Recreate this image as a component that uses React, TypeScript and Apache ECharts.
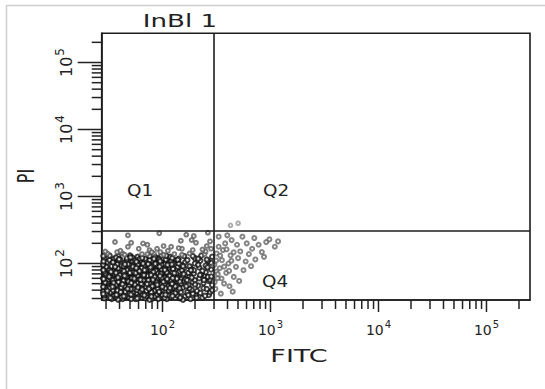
import React, { useEffect, useRef } from "react";
import * as echarts from "echarts";

// Axis definitions (log10 of intensity)
const decadeExps = [2, 3, 4, 5];
const fitcRangeLog = [1.437, 5.403];
const piRangeLog = [1.455, 5.436];
// Quadrant gate (log10 of intensity)
const gateFitcLog = 2.47;
const gatePiLog = 2.49;

// Events [log10 FITC, log10 PI]
const q3Events = [
  [1.46,1.48],[1.50,1.52],[1.53,1.47],[1.57,1.50],[1.60,1.54],[1.63,1.47],[1.66,1.51],[1.69,1.49],[1.72,1.53],[1.75,1.47],[1.78,1.50],[1.81,1.54],[1.84,1.48],[1.87,1.52],[1.90,1.47],[1.93,1.51],[1.97,1.49],[2.00,1.53],[2.04,1.47],[2.08,1.50],[2.12,1.54],[2.16,1.48],[2.21,1.51],[2.26,1.47],[2.31,1.52],[2.37,1.49],[2.43,1.53],[1.48,1.55],[1.55,1.53],[1.62,1.50],[1.71,1.47],[1.77,1.54],[1.85,1.51],[1.95,1.54],[2.02,1.49],[2.14,1.52],[2.28,1.55],[1.59,1.46],[1.88,1.46],[2.19,1.46],
  [1.45,1.58],[1.49,1.62],[1.52,1.57],[1.55,1.64],[1.58,1.60],[1.61,1.56],[1.63,1.63],[1.66,1.59],[1.68,1.65],[1.70,1.57],[1.72,1.61],[1.74,1.64],[1.76,1.56],[1.78,1.60],[1.80,1.63],[1.82,1.58],[1.84,1.62],[1.86,1.56],[1.88,1.60],[1.90,1.64],[1.92,1.58],[1.95,1.62],[1.97,1.57],[2.00,1.61],[2.03,1.65],[2.06,1.58],[2.09,1.62],[2.12,1.56],[2.15,1.60],[2.19,1.64],[2.23,1.57],[2.27,1.61],[2.32,1.59],[2.38,1.63],[2.44,1.57],[1.47,1.65],[1.57,1.55],[1.65,1.61],[1.73,1.58],[1.81,1.65],[1.89,1.57],[1.99,1.64],[2.07,1.60],[2.17,1.57],[2.35,1.56],[1.54,1.60],[1.62,1.59],[1.77,1.62],[1.93,1.60],[2.10,1.64],[2.41,1.62],[1.69,1.55],[1.85,1.59],[2.25,1.63],[2.46,1.60],
  [1.46,1.68],[1.49,1.72],[1.51,1.66],[1.54,1.70],[1.56,1.74],[1.58,1.67],[1.60,1.71],[1.62,1.75],[1.64,1.68],[1.66,1.72],[1.67,1.66],[1.69,1.70],[1.71,1.74],[1.73,1.67],[1.74,1.71],[1.76,1.69],[1.78,1.73],[1.79,1.66],[1.81,1.70],[1.83,1.74],[1.85,1.67],[1.86,1.72],[1.88,1.69],[1.90,1.75],[1.92,1.66],[1.94,1.71],[1.96,1.68],[1.98,1.73],[2.01,1.67],[2.03,1.71],[2.06,1.74],[2.08,1.68],[2.11,1.72],[2.14,1.66],[2.17,1.70],[2.20,1.74],[2.24,1.68],[2.28,1.72],[2.33,1.67],[2.38,1.71],[2.43,1.74],[2.46,1.68],[1.48,1.75],[1.53,1.67],[1.59,1.73],[1.63,1.70],[1.68,1.74],[1.72,1.69],[1.77,1.66],[1.80,1.75],[1.84,1.70],[1.87,1.66],[1.91,1.72],[1.95,1.74],[1.99,1.69],[2.05,1.66],[2.10,1.70],[2.16,1.73],[2.22,1.66],[2.30,1.75],[1.57,1.69],[1.65,1.66],[1.75,1.73],[1.82,1.68],[1.93,1.67],
  [1.45,1.78],[1.48,1.82],[1.50,1.76],[1.53,1.80],[1.55,1.84],[1.57,1.77],[1.59,1.81],[1.61,1.85],[1.63,1.78],[1.65,1.82],[1.66,1.76],[1.68,1.80],[1.70,1.84],[1.71,1.77],[1.73,1.81],[1.75,1.79],[1.76,1.83],[1.78,1.76],[1.80,1.80],[1.81,1.84],[1.83,1.77],[1.85,1.81],[1.86,1.85],[1.88,1.78],[1.90,1.82],[1.92,1.76],[1.94,1.80],[1.96,1.84],[1.98,1.77],[2.00,1.81],[2.03,1.85],[2.05,1.78],[2.08,1.82],[2.11,1.76],[2.14,1.80],[2.17,1.84],[2.21,1.77],[2.25,1.81],[2.29,1.85],[2.34,1.78],[2.39,1.82],[2.44,1.76],[1.47,1.85],[1.52,1.78],[1.58,1.83],[1.62,1.80],[1.67,1.84],[1.72,1.79],[1.77,1.82],[1.82,1.79],[1.87,1.83],[1.91,1.79],[1.95,1.77],[1.99,1.83],[2.02,1.79],[2.07,1.84],[2.13,1.78],[2.19,1.82],[2.27,1.79],[2.36,1.84],[2.42,1.80],[1.54,1.75],[1.64,1.76],[1.74,1.75],[1.84,1.75],
  [1.46,1.88],[1.49,1.92],[1.52,1.86],[1.55,1.90],[1.57,1.94],[1.60,1.87],[1.62,1.91],[1.64,1.95],[1.66,1.88],[1.68,1.92],[1.70,1.86],[1.72,1.90],[1.74,1.94],[1.76,1.87],[1.78,1.91],[1.80,1.88],[1.82,1.93],[1.84,1.86],[1.86,1.90],[1.88,1.94],[1.90,1.87],[1.92,1.91],[1.95,1.88],[1.97,1.93],[2.00,1.86],[2.03,1.90],[2.06,1.94],[2.09,1.87],[2.12,1.91],[2.16,1.88],[2.20,1.93],[2.24,1.86],[2.29,1.90],[2.34,1.94],[2.40,1.87],[2.45,1.91],[1.48,1.95],[1.54,1.87],[1.59,1.93],[1.65,1.91],[1.71,1.93],[1.75,1.89],[1.81,1.95],[1.85,1.91],[1.91,1.95],[1.94,1.89],[1.99,1.91],[2.04,1.87],[2.10,1.93],[2.18,1.90],[2.26,1.94],[2.37,1.89],[1.63,1.86],[1.73,1.87],[1.83,1.89],[1.96,1.85],[2.14,1.95],[1.51,1.90],[1.69,1.95],[1.89,1.91],
  [1.45,1.98],[1.49,2.02],[1.53,1.96],[1.56,2.00],[1.59,2.04],[1.62,1.97],[1.65,2.01],[1.67,2.05],[1.70,1.98],[1.73,2.02],[1.75,1.96],[1.78,2.00],[1.80,2.04],[1.83,1.97],[1.86,2.01],[1.88,2.05],[1.91,1.98],[1.94,2.02],[1.97,1.96],[2.00,2.00],[2.03,2.04],[2.06,1.97],[2.10,2.01],[2.13,2.05],[2.17,1.98],[2.21,2.02],[2.25,1.96],[2.30,2.00],[2.35,2.04],[2.40,1.97],[2.45,2.01],[1.51,2.05],[1.58,1.99],[1.64,1.96],[1.72,2.04],[1.77,1.98],[1.84,2.03],[1.90,1.96],[1.96,2.03],[2.02,1.99],[2.08,2.04],[2.15,2.00],[2.23,2.05],[2.33,1.98],[2.42,2.04],[1.55,2.03],[1.68,1.99],[1.82,2.00],[1.99,1.98],[2.19,1.96],
  [1.46,2.08],[1.51,2.12],[1.55,2.07],[1.59,2.11],[1.67,2.08],[1.70,2.12],[1.74,2.06],[1.77,2.10],[1.84,2.07],[1.88,2.11],[1.95,2.08],[1.99,2.12],[2.03,2.06],[2.07,2.10],[2.15,2.07],[2.20,2.11],[2.30,2.08],[2.36,2.12],[2.41,2.06],[2.46,2.10],[1.57,2.09],[1.72,2.09],[1.79,2.07],[1.93,2.10],[2.09,2.08],[2.28,2.11],[1.61,2.06],[1.97,2.06],[2.33,2.07],
];

// Extra events in the dense core of the lower-left quadrant
const q3CoreEvents = [
  [1.512,1.634],[1.547,1.712],[1.583,1.598],[1.604,1.826],[1.638,1.743],[1.655,1.577],[1.671,1.902],[1.693,1.668],[1.716,1.781],[1.734,1.623],[1.752,1.857],[1.768,1.704],[1.791,1.585],[1.807,1.931],[1.823,1.749],[1.846,1.646],[1.862,1.818],[1.879,1.702],[1.897,1.571],[1.915,1.873],[1.938,1.739],[1.956,1.622],[1.973,1.954],[1.994,1.784],[2.017,1.683],[2.038,1.867],[2.055,1.597],[2.079,1.742],[2.097,1.918],[2.118,1.661],
  [1.523,1.877],[1.561,1.952],[1.592,1.723],[1.617,1.641],[1.643,1.889],[1.662,1.807],[1.684,1.732],[1.707,1.618],[1.726,1.953],[1.744,1.684],[1.763,1.604],[1.786,1.887],[1.803,1.697],[1.828,1.826],[1.851,1.593],[1.869,1.752],[1.888,1.944],[1.906,1.661],[1.927,1.802],[1.947,1.713],[1.968,1.579],[1.986,1.846],[2.008,1.728],[2.027,1.631],[2.047,1.979],[2.066,1.814],[2.088,1.696],[2.109,1.856],[2.132,1.774],[2.158,1.629],
  [1.468,1.716],[1.489,1.593],[1.506,1.804],[1.537,1.653],[1.569,1.861],[1.588,1.792],[1.612,1.572],[1.629,1.689],[1.648,1.817],[1.677,1.623],[1.698,1.861],[1.711,1.711],[1.739,1.776],[1.757,1.932],[1.773,1.641],[1.796,1.758],[1.812,1.613],[1.834,1.902],[1.857,1.694],[1.874,1.624],[1.893,1.829],[1.911,1.757],[1.933,1.996],[1.952,1.683],[1.977,1.812],[1.998,1.652],[2.021,1.905],[2.043,1.769],[2.069,1.633],[2.094,1.781],
  [1.541,2.018],[1.597,2.062],[1.652,1.989],[1.703,2.091],[1.758,2.027],[1.812,2.083],[1.867,1.992],[1.921,2.071],[1.978,2.033],[2.034,2.117],[2.086,1.987],[2.141,2.057],[2.196,1.842],[2.227,1.752],[2.263,1.901],[2.302,1.687],[2.347,1.829],[2.384,1.752],[2.417,1.943],[2.452,1.806],
  [1.458,1.523],[1.517,1.487],[1.574,1.531],[1.641,1.512],[1.708,1.538],[1.766,1.479],[1.832,1.526],[1.897,1.508],[1.962,1.471],[2.027,1.534],[2.093,1.516],[2.164,1.493],[2.238,1.529],[2.316,1.487],[2.394,1.517],
  [1.452,1.902],[1.451,1.651],[1.453,2.112],[1.455,1.769],[1.452,1.546],[1.454,2.031],
];

// Sparse, fainter events near the top of the lower-left quadrant
const q3UpperEvents = [
  [1.63,2.15],[1.81,2.14],[1.92,2.15],[2.11,2.14],[2.25,2.15],[1.49,2.15],[1.65,2.13],[1.86,2.14],[2.01,2.13],[2.18,2.13],[2.39,2.14],
  [1.47,2.18],[1.58,2.17],[1.68,2.25],[1.78,2.22],[1.88,2.20],[1.98,2.17],[2.08,2.25],[2.18,2.22],[2.28,2.20],[2.40,2.18],[2.45,2.22],[1.61,2.19],[1.90,2.17],[2.05,2.19],[2.37,2.21],[1.95,2.22],[2.15,2.23],
  [1.56,2.32],[1.71,2.31],[1.86,2.28],[2.01,2.26],[2.17,2.34],[2.31,2.31],[2.44,2.33],[1.82,2.30],[2.27,2.35],[2.41,2.26],
  [1.68,2.42],[1.97,2.45],[2.22,2.43],[2.42,2.46],[2.29,2.41],
];

const q4Events = [
  [2.49,1.62],[2.51,1.78],[2.53,1.93],[2.55,2.05],[2.50,2.15],[2.57,1.70],[2.59,1.86],[2.61,2.00],[2.63,2.12],[2.52,2.25],[2.66,1.80],[2.68,1.95],[2.70,2.08],[2.58,2.30],[2.72,2.18],[2.75,1.90],[2.77,2.03],[2.80,2.14],[2.64,2.35],[2.83,2.22],[2.86,2.06],[2.89,2.28],[2.92,2.17],[2.96,2.32],[3.04,2.25],[2.54,1.55],[2.62,1.66],[2.71,1.74],[2.48,1.98],[2.56,2.20],[2.74,2.40],[2.85,2.38],[2.60,2.42],[2.69,2.28],[2.78,2.30],[2.50,1.88],[2.65,1.58],[2.82,1.96],[2.94,2.10],[2.52,2.40],[2.99,2.36],[3.07,2.33],
  [2.483,1.722],[2.497,2.043],[2.512,1.841],[2.534,2.117],[2.547,1.776],[2.571,1.953],[2.593,2.212],[2.617,1.891],[2.638,2.041],[2.659,2.167],
];

const upperEvents = [[2.63,2.57],[2.70,2.60]];

const quadrantLabels = [
  { text: "Q1", x: 140, y: 190 },
  { text: "Q2", x: 276, y: 190 },
  { text: "Q4", x: 275, y: 281.5 },
];

function minorTickValues(min: number, max: number): number[] {
  const out: number[] = [];
  for (let n = 1; n <= 5; n++) {
    for (let k = 2; k <= 9; k++) {
      const v = n + Math.log10(k);
      if (v >= min && v <= max) out.push(v);
    }
  }
  return out;
}

const LINE = "#1c1c1c";
const TICK = "#222";
const FONT = "DejaVu Sans";

function richPow(size: number) {
  return {
    b: { fontSize: size, fontFamily: FONT, color: "#222", verticalAlign: "bottom" },
    s: { fontSize: Math.round(size * 0.72), fontFamily: FONT, color: "#222", verticalAlign: "bottom", padding: [0, 0, Math.round(size * 0.58), 1] },
  };
}

function powLabel(v: number) {
  return `{b|10}{s|${Math.round(v)}}`;
}

export default function App() {
  const ref = useRef<HTMLDivElement>(null);

  useEffect(() => {
    if (!ref.current) return;
    const chart = echarts.init(ref.current, null, { renderer: "svg" });
    const minorX = minorTickValues(fitcRangeLog[0], fitcRangeLog[1]);
    const minorY = minorTickValues(piRangeLog[0], piRangeLog[1]);

    const xTickSeries = (values: number[], len: number) => ({
      type: "custom",
      silent: true,
      clip: false,
      z: 5,
      data: values.map((v) => [v, piRangeLog[0]]),
      renderItem: (_p: any, api: any) => {
        const pt = api.coord([api.value(0), api.value(1)]);
        return {
          type: "line",
          shape: { x1: pt[0], y1: pt[1], x2: pt[0], y2: pt[1] + len },
          style: { stroke: TICK, lineWidth: 1.5 },
        };
      },
    });
    const yTickSeries = (values: number[], len: number) => ({
      type: "custom",
      silent: true,
      clip: false,
      z: 5,
      data: values.map((v) => [fitcRangeLog[0], v]),
      renderItem: (_p: any, api: any) => {
        const pt = api.coord([api.value(0), api.value(1)]);
        return {
          type: "line",
          shape: { x1: pt[0] - len, y1: pt[1], x2: pt[0], y2: pt[1] },
          style: { stroke: TICK, lineWidth: 1.5 },
        };
      },
    });

    const scatterStyle = (color: string, size: number, bw = 1) => ({
      type: "scatter",
      symbol: "emptyCircle",
      symbolSize: size,
      silent: true,
      itemStyle: { color, borderWidth: bw },
    });

    const option: any = {
      animation: false,
      backgroundColor: "#ffffff",
      grid: {
        left: 101.7,
        top: 33.3,
        right: 15,
        bottom: 89,
        show: true,
        borderColor: LINE,
        borderWidth: 1.6,
      },
      xAxis: {
        type: "value",
        min: fitcRangeLog[0],
        max: fitcRangeLog[1],
        position: "bottom",
        splitLine: { show: false },
        axisLine: { show: true, onZero: false, lineStyle: { color: LINE, width: 1.6 } },
        axisTick: { show: false },
        axisLabel: { show: true, customValues: decadeExps, margin: 19, formatter: powLabel, rich: richPow(14) },
      },
      yAxis: {
        type: "value",
        min: piRangeLog[0],
        max: piRangeLog[1],
        position: "left",
        splitLine: { show: false },
        axisLine: { show: true, onZero: false, lineStyle: { color: LINE, width: 1.6 } },
        axisTick: { show: false },
        axisLabel: { show: true, customValues: decadeExps, margin: 27, rotate: 90, formatter: powLabel, rich: richPow(16) },
      },
      series: [
        {
          ...scatterStyle("#111", 4.4, 1.1),
          name: "Q3",
          data: q3Events,
          markLine: {
            silent: true,
            symbol: ["none", "none"],
            label: { show: false },
            lineStyle: { color: LINE, width: 1.6, type: "solid" },
            data: [{ xAxis: gateFitcLog }, { yAxis: gatePiLog }],
          },
        },
        { ...scatterStyle("#111", 4.4, 1.2), name: "Q3 core", data: q3CoreEvents },
        { ...scatterStyle("#5a5a5a", 3.8, 0.9), name: "Q3 upper", data: q3UpperEvents },
        { ...scatterStyle("#666", 4, 0.9), name: "Q4", data: q4Events },
        { ...scatterStyle("#999", 3.6, 0.8), name: "upper", data: upperEvents },
        xTickSeries(decadeExps, 12),
        xTickSeries(minorX, 9),
        yTickSeries(decadeExps, 24),
        yTickSeries(minorY, 10),
      ],
      graphic: [
        {
          type: "line",
          silent: true,
          shape: { x1: 6.5, y1: 5, x2: 6.5, y2: 389 },
          style: { stroke: "#cfcfcf", lineWidth: 1.5 },
        },
        {
          type: "line",
          silent: true,
          shape: { x1: 6, y1: 5.5, x2: 545, y2: 5.5 },
          style: { stroke: "#cfcfcf", lineWidth: 1.5 },
        },
        {
          type: "text",
          x: 180,
          y: 21,
          scaleX: 1.45,
          style: { text: "InBl 1", fontSize: 18, fontFamily: FONT, fill: "#222", align: "center", verticalAlign: "middle" },
        },
        {
          type: "text",
          x: 299,
          y: 355.5,
          scaleX: 1.5,
          style: { text: "FITC", fontSize: 18, fontFamily: FONT, fill: "#222", align: "center", verticalAlign: "middle" },
        },
        {
          type: "text",
          x: 27,
          y: 176,
          rotation: Math.PI / 2,
          scaleY: 1.4,
          style: { text: "PI", fontSize: 16, fontFamily: FONT, fill: "#222", align: "center", verticalAlign: "middle" },
        },
        ...quadrantLabels.map((q) => ({
          type: "text",
          x: q.x,
          y: q.y,
          scaleX: 1.15,
          style: { text: q.text, fontSize: 16, fontFamily: FONT, fill: "#222", align: "center", verticalAlign: "middle" },
        })),
      ],
    };

    chart.setOption(option);
    return () => chart.dispose();
  }, []);

  return (
    <div
      ref={ref}
      style={{ position: "fixed", left: 0, top: 0, width: 545, height: 389, background: "#fff" }}
    />
  );
}
